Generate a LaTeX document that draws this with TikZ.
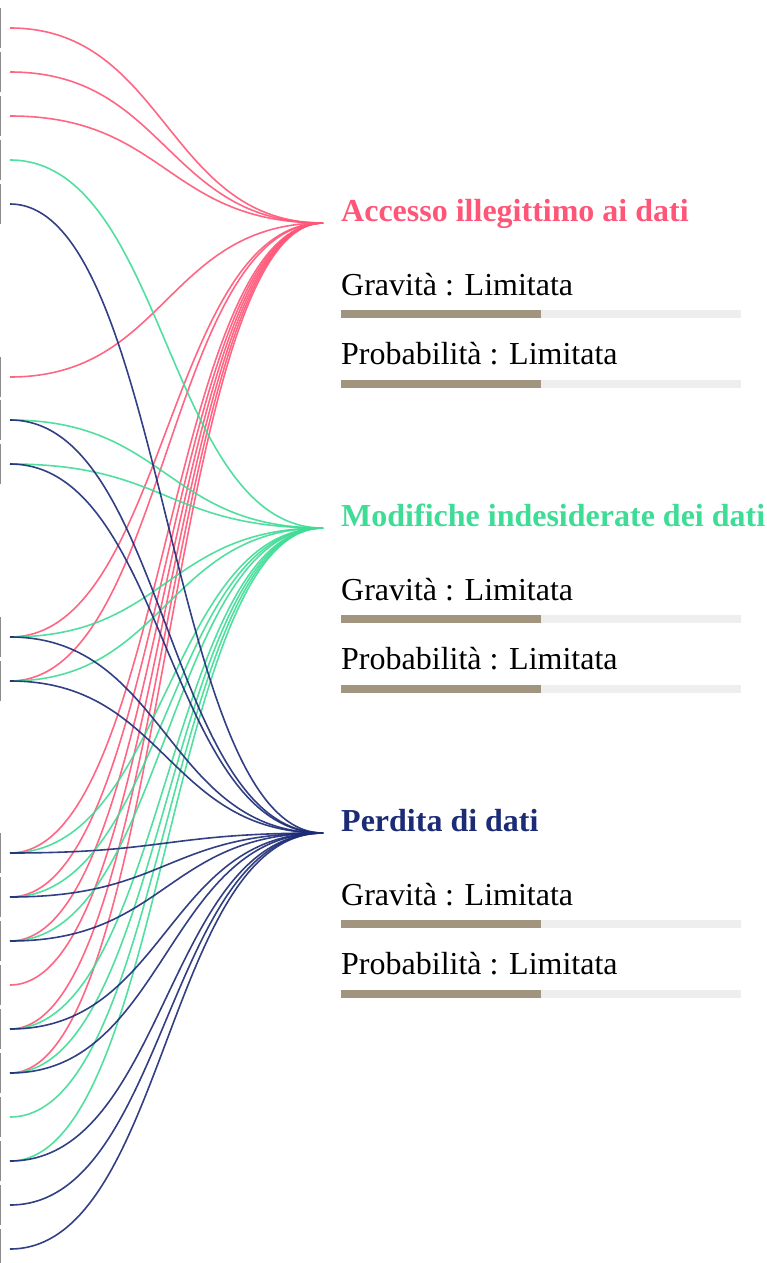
\documentclass[tikz,border=0pt]{standalone}
\usepackage{fontspec}
\setmainfont{Liberation Serif}
\usetikzlibrary{calc}
\definecolor{cred}{HTML}{FF5577}
\definecolor{cgreen}{HTML}{3EDC95}
\definecolor{cnavy}{HTML}{1C2B76}
\definecolor{cbar}{HTML}{A29580}
\definecolor{ctrack}{HTML}{EEEEEE}
\definecolor{cedge}{HTML}{8C8C8C}
\begin{document}
\begin{tikzpicture}[x=1pt,y=-1pt,
  link/.style={line width=1.6pt, opacity=0.9},
  title/.style={anchor=base west, inner sep=0pt, font=\fontsize{32}{36}\selectfont\bfseries},
  lbl/.style={anchor=base west, inner sep=0pt, font=\fontsize{32}{36}\selectfont, text=black},
  edgebar/.style={cedge, line width=1.3pt}]
\useasboundingbox (0,0) rectangle (766,1263);
\clip (0,0) rectangle (766,1263);
% sources
\foreach \i/\y in {0/28,1/72,2/116,3/160,4/204,5/377,6/420,7/464,8/637,9/681,10/853,11/897,12/941,13/985,14/1029,15/1073,16/1117,17/1161,18/1205,19/1249}{
  \coordinate (s\i) at (10,\y);
  \draw[edgebar] (0.6,\y-20) -- (0.6,\y+20);
}
% targets
\foreach \n/\y in {A/223,M/528,P/833}{
  \coordinate (t\n) at (323,\y);
}
% links
\foreach \i in {0,1,2,5,8,9,10,11,12,13,14,15}{
  \draw[link,cred] let \p1=(s\i), \p2=(tA) in (\p1) .. controls ({(\x1+\x2)/2},\y1) and ({(\x1+\x2)/2},\y2) .. (\p2);
}
\foreach \i in {3,6,7,8,9,10,11,12,14,15,16,17}{
  \draw[link,cgreen] let \p1=(s\i), \p2=(tM) in (\p1) .. controls ({(\x1+\x2)/2},\y1) and ({(\x1+\x2)/2},\y2) .. (\p2);
}
\foreach \i in {4,6,7,8,9,10,11,12,14,15,17,18,19}{
  \draw[link,cnavy] let \p1=(s\i), \p2=(tP) in (\p1) .. controls ({(\x1+\x2)/2},\y1) and ({(\x1+\x2)/2},\y2) .. (\p2);
}
% risk blocks
\foreach \n/\y/\c/\t in {A/223/cred/{Accesso illegittimo ai dati},M/528/cgreen/{Modifiche indesiderate dei dati},P/833/cnavy/{Perdita di dati}}{
  \node[title,text=\c] (title\n) at (341,\y-2) {\t};
  \node[lbl] (grav\n) at (341,\y+72) {Gravità : Limitata};
  \fill[ctrack] (341,\y+87) rectangle (741,\y+95);
  \fill[cbar] (341,\y+87) rectangle (541,\y+95);
  \node[lbl] (prob\n) at (341,\y+141) {Probabilità : Limitata};
  \fill[ctrack] (341,\y+157) rectangle (741,\y+165);
  \fill[cbar] (341,\y+157) rectangle (541,\y+165);
}
\end{tikzpicture}
\end{document}
